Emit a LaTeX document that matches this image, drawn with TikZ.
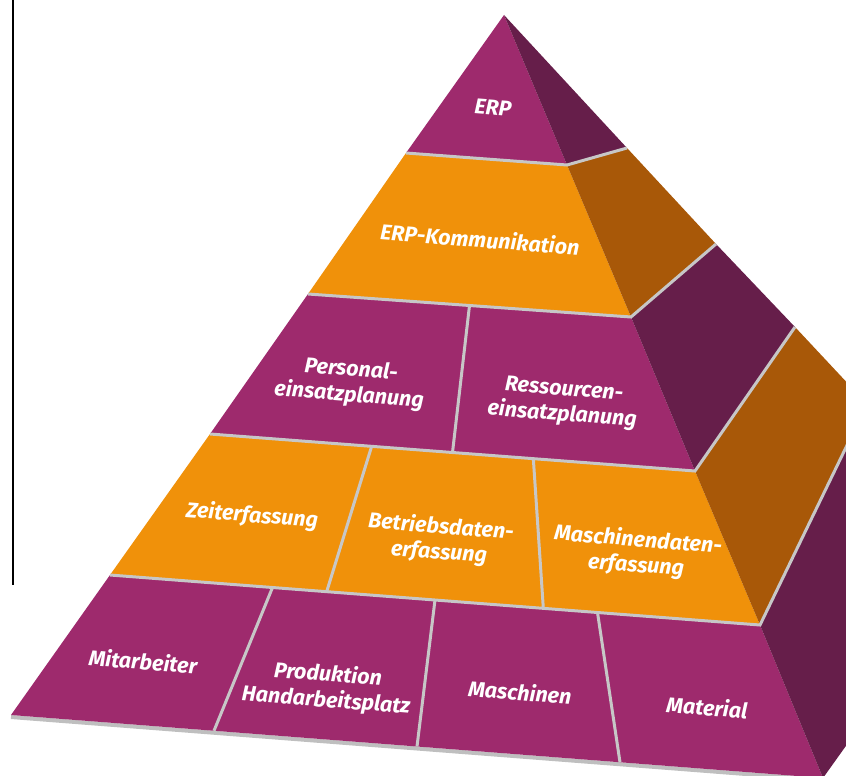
\documentclass[tikz,border=0pt]{standalone}
\usepackage{fontspec}
\newfontfamily\pyrfont{Fira Sans}
\usetikzlibrary{calc}

\definecolor{plum}{HTML}{9E2A6D}
\definecolor{plumdark}{HTML}{661E4A}
\definecolor{amber}{HTML}{F0910A}
\definecolor{amberdark}{HTML}{A85808}

\tikzset{
  gap/.style={draw=black!22, line width=3pt},
  lbl/.style={text=white, align=center, rotate=-4.5, inner sep=1pt,
    font=\pyrfont\bfseries\itshape\fontsize{21.5}{25.5}\selectfont},
}

\begin{document}
\begin{tikzpicture}[x=1pt, y=-1pt]
\useasboundingbox (0,0) rectangle (846,776);
\clip (0,0) rectangle (846,776);

% left edge, ridge and right edge of the pyramid
\coordinate (apex) at (504,15);
\coordinate (l1) at (406,153);
\coordinate (l2) at (308,294);
\coordinate (l3) at (210,434);
\coordinate (l4) at (110,575);
\coordinate (l5) at (11,715);
\coordinate (r1) at (567,165);
\coordinate (r2) at (631,317);
\coordinate (r3) at (695,471);
\coordinate (r4) at (760,625);
\coordinate (r5) at (823,778);
\coordinate (s1) at (627,148);
\coordinate (s2) at (716,244);
\coordinate (s3) at (795,327);
\coordinate (s4) at (867,404);
\coordinate (s5) at (993,540);

% shadow under the base
\draw [black!25, line width=4pt] ([yshift=-2pt]l5) -- ([yshift=-2pt]r5);

% top
\fill [plum] (apex) -- (l1) -- (r1) -- cycle;
\fill [plumdark] (apex) -- (r1) -- (s1) -- cycle;
% layers
\foreach \i/\j/\cf/\cs in {1/2/amber/amberdark, 2/3/plum/plumdark,
                           3/4/amber/amberdark, 4/5/plum/plumdark}{
  \fill [\cf] (l\i) -- (l\j) -- (r\j) -- (r\i) -- cycle;
  \fill [\cs] (r\i) -- (r\j) -- (s\j) -- (s\i) -- cycle;
}

% gaps between layers and blocks
\foreach \i in {1,...,4}
  \draw [gap] (l\i) -- (r\i) -- (s\i);
\draw [gap] ($(l2)!0.5!(r2)$) -- ($(l3)!0.5!(r3)$);
\foreach \f in {1/3, 2/3}
  \draw [gap] ($(l3)!\f!(r3)$) -- ($(l4)!\f!(r4)$);
\foreach \f in {0.25, 0.5, 0.75}
  \draw [gap] ($(l4)!\f!(r4)$) -- ($(l5)!\f!(r5)$);

\node [lbl] (erp) at (493,108) {ERP};
\node [lbl] (kom) at (480,239) {ERP-Kommunikation};
\node [lbl] (pers) at (350,383) {Personal-\\einsatzplanung};
\node [lbl] (ress) at (563,403) {Ressourcen-\\einsatzplanung};
\node [lbl] (zeit) at (252,516) {Zeiterfassung};
\node [lbl] (bde) at (440,540) {Betriebsdaten-\\erfassung};
\node [lbl] (mde) at (637,553) {Maschinendaten-\\erfassung};
\node [lbl] (mit) at (143,661) {Mitarbeiter};
\node [lbl] (prod) at (327,688) {Produktion\\Handarbeitsplatz};
\node [lbl] (masch) at (520,692) {Maschinen};
\node [lbl] (mat) at (707,707) {Material};

\draw [line width=1.2pt] (13,0) -- (13,585);

\end{tikzpicture}
\end{document}
